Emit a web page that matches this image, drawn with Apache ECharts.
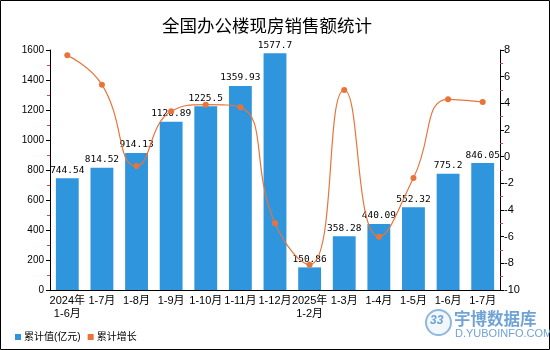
<!DOCTYPE html>
<html>
<head>
<meta charset="utf-8">
<style>
  html, body { margin: 0; padding: 0; background: #fff; }
  #chart { width: 550px; height: 350px; }
</style>
<script src="https://cdn.jsdelivr.net/npm/echarts@6/dist/echarts.min.js"></script>
</head>
<body>
<div id="chart"></div>
<script>
// Period labels (cumulative, from January)
const categories = ['2024年\n1-6月', '1-7月', '1-8月', '1-9月', '1-10月', '1-11月', '1-12月',
  '2025年\n1-2月', '1-3月', '1-4月', '1-5月', '1-6月', '1-7月'];
// Cumulative sales value, 100 million yuan
const salesValue = [744.54, 814.52, 914.13, 1120.89, 1225.5, 1359.93, 1577.7,
  150.86, 358.28, 440.09, 552.32, 775.2, 846.05];
// Cumulative year-on-year growth, %
const salesGrowth = [7.6, 5.4, -0.7, 3.4, 3.9, 3.7, -5.0,
  -8.1, 5.0, -6.0, -1.6, 4.3, 4.1];

const chart = echarts.init(document.getElementById('chart'));
const font = '"Liberation Sans", "Noto Sans CJK SC", sans-serif';
const monoFont = '"DejaVu Sans Mono", "Liberation Mono", monospace';

chart.setOption({
  animation: false,
  textStyle: { fontFamily: font },
  title: {
    text: '全国办公楼现房销售额统计',
    left: 157,
    top: 13,
    textStyle: { fontSize: 17.5, fontWeight: 'normal', color: '#000', fontFamily: font }
  },
  legend: {
    left: 10,
    top: 327,
    itemWidth: 6,
    itemHeight: 6,
    itemGap: 7,
    icon: 'rect',
    textStyle: { fontSize: 10, color: '#000', padding: [0, 0, 0, -2] },
    data: ['累计值(亿元)', '累计增长']
  },
  grid: { left: 50, right: 50, top: 50, bottom: 60 },
  xAxis: {
    type: 'category',
    data: categories,
    axisLine: { lineStyle: { color: '#000' } },
    axisTick: { show: false },
    axisLabel: { color: '#000', fontSize: 11, interval: 0, lineHeight: 13, margin: 4 }
  },
  yAxis: [
    {
      type: 'value',
      min: 0, max: 1600, interval: 200,
      splitLine: { show: false },
      axisLine: { show: true, lineStyle: { color: '#000' } },
      axisTick: { show: true, length: 4, lineStyle: { color: '#000' } },
      minorTick: { show: true, splitNumber: 2, length: 3, lineStyle: { color: '#e04040' } },
      axisLabel: { color: '#000', fontSize: 10, margin: 6, formatter: v => String(v) }
    },
    {
      type: 'value',
      min: -10, max: 8, interval: 2,
      splitLine: { show: false },
      axisLine: { show: true, lineStyle: { color: '#000' } },
      axisTick: { show: true, length: 4, lineStyle: { color: '#000' } },
      minorTick: { show: true, splitNumber: 2, length: 3, lineStyle: { color: '#e04040' } },
      axisLabel: { color: '#000', fontSize: 11, margin: 4 }
    }
  ],
  series: [
    {
      name: '累计值(亿元)',
      type: 'bar',
      data: salesValue,
      barWidth: '66%',
      itemStyle: { color: '#2f96de' },
      label: { show: true, position: 'top', color: '#000', fontSize: 9.5, fontFamily: monoFont, distance: 3 }
    },
    {
      name: '累计增长',
      type: 'line',
      yAxisIndex: 1,
      data: salesGrowth,
      smooth: true,
      symbol: 'circle',
      symbolSize: 6,
      lineStyle: { color: '#e8743b', width: 1.2 },
      itemStyle: { color: '#e8743b' }
    }
  ],
  graphic: [
    {
      type: 'rect',
      shape: { x: 0.5, y: 0.5, width: 549, height: 349 },
      style: { fill: 'none', stroke: '#000', lineWidth: 1 },
      silent: true
    },
    {
      type: 'circle',
      shape: { cx: 438.5, cy: 322.5, r: 12.5 },
      style: { fill: '#f2f7fc', stroke: '#8db8e0', lineWidth: 2 },
      silent: true
    },
    {
      type: 'text',
      left: 430, top: 315,
      style: { text: '33', fill: '#6fa3d6', font: 'italic bold 12px ' + font },
      silent: true
    },
    {
      type: 'text',
      left: 454, top: 310,
      style: { text: '宇博数据库', fill: '#6fa3d6', font: 'bold 16.5px "Noto Sans CJK SC", sans-serif' },
      silent: true
    },
    {
      type: 'text',
      left: 455, top: 328,
      style: { text: 'D.YUBOINFO.COM', fill: '#6fa3d6', font: '11px ' + font },
      silent: true
    }
  ]
});
</script>
</body>
</html>
